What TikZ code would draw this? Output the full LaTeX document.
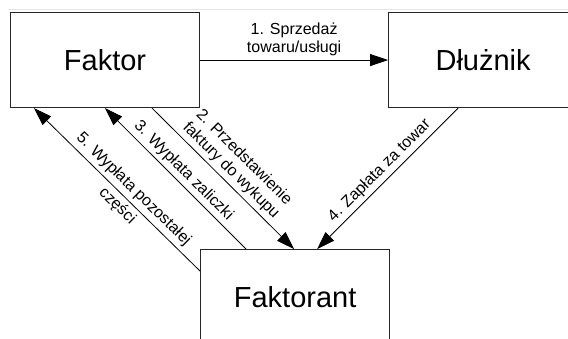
\documentclass[tikz,border=0pt]{standalone}
\usepackage{fontspec}
\setmainfont{Liberation Sans}
\usetikzlibrary{arrows.meta,positioning}

\begin{document}
\begin{tikzpicture}[x=1pt,y=-1pt,>={Triangle[length=18pt,width=12pt]},
  party/.style={draw=black!85,line width=1.1pt,minimum width=189pt,minimum height=95pt,inner sep=0pt,font=\fontsize{29}{33}\selectfont},
  flow/.style={->,line width=0.8pt},
  lbl/.style={font=\fontsize{16}{18.4}\selectfont,align=center,sloped}]
  \useasboundingbox (0,0) rectangle (568,339);
  \clip (0,0) rectangle (568,339);
  \draw[black!10] (8,9) -- (568,9);
  \node[party,anchor=north west] (faktor) at (10,12) {Faktor};
  \node[party,right=188pt of faktor] (dluznik) {Dłużnik};
  \node[party,below right=141pt and 0pt of faktor.south east] (faktorant) {Faktorant};
  \draw[flow] (faktor) -- node[lbl,above] {1. Sprzedaż\\towaru/usługi} (dluznik);
  \draw[flow] ([xshift=142pt]faktor.south west) -- node[lbl,above] {2. Przedstawienie\\faktury do wykupu} ([xshift=94pt]faktorant.north west);
  \draw[flow] ([xshift=46pt]faktorant.north west) -- node[lbl,above] {3. Wypłata zaliczki} ([xshift=95pt]faktor.south west);
  \draw[flow] ([xshift=70pt]dluznik.south west) -- node[lbl,above] {4. Zapłata za towar} ([xshift=117pt]faktorant.north west);
  \draw[flow] ([yshift=-22pt]faktorant.north west) -- node[lbl,pos=0.45] {5. Wypłata pozostałej\\[5pt]części} ([xshift=24pt]faktor.south west);
\end{tikzpicture}
\end{document}
